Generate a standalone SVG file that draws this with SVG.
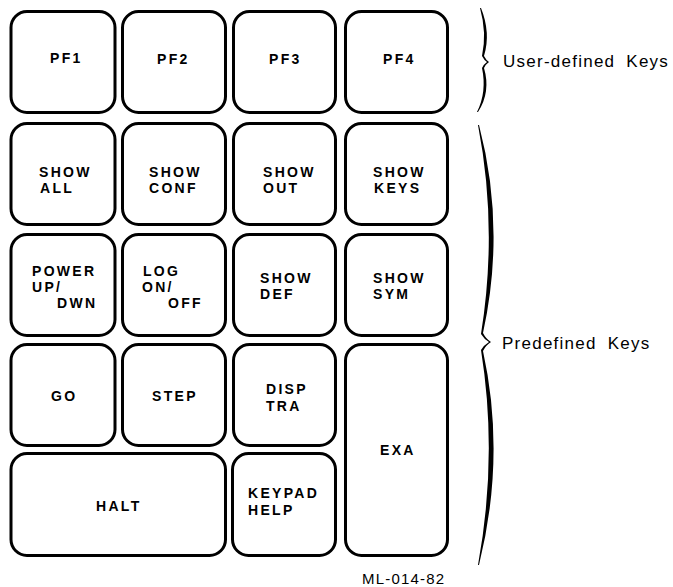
<svg xmlns="http://www.w3.org/2000/svg" width="673" height="587" viewBox="0 0 673 587">
<style>
.key rect{fill:#fff;stroke:#000;stroke-width:3}
.kt{font-family:"Liberation Sans",Arial,sans-serif;font-weight:bold;font-size:14px;letter-spacing:2.3px;fill:#000}
.lbl{font-family:"Liberation Sans",Arial,sans-serif;font-size:17px;letter-spacing:1.25px;word-spacing:5px;fill:#000}
.ref{font-family:"Liberation Sans",Arial,sans-serif;font-size:15px;letter-spacing:1.2px;fill:#000}
.brace{fill:#000}
</style>
<rect width="673" height="587" fill="#fff"/>
<g id="pf1" class="key"><rect x="11" y="11.5" width="104" height="101" rx="16"/><text class="kt" x="50" y="63">PF1</text></g>
<g id="pf2" class="key"><rect x="122.5" y="11.5" width="103" height="101" rx="16"/><text class="kt" x="157" y="64">PF2</text></g>
<g id="pf3" class="key"><rect x="233.5" y="11.5" width="102" height="101" rx="16"/><text class="kt" x="269" y="64">PF3</text></g>
<g id="pf4" class="key"><rect x="345.5" y="11.5" width="102" height="101" rx="16"/><text class="kt" x="383" y="64">PF4</text></g>

<g id="show-all" class="key"><rect x="11" y="123.5" width="104" height="101" rx="16"/><text class="kt" x="39" y="177">SHOW</text><text class="kt" x="40" y="193">ALL</text></g>
<g id="show-conf" class="key"><rect x="122.5" y="123.5" width="103" height="101" rx="16"/><text class="kt" x="149" y="177">SHOW</text><text class="kt" x="149" y="193">CONF</text></g>
<g id="show-out" class="key"><rect x="233.5" y="123.5" width="102" height="101" rx="16"/><text class="kt" x="263" y="177">SHOW</text><text class="kt" x="263" y="193">OUT</text></g>
<g id="show-keys" class="key"><rect x="345.5" y="123.5" width="102" height="101" rx="16"/><text class="kt" x="373" y="177">SHOW</text><text class="kt" x="374" y="193">KEYS</text></g>

<g id="power" class="key"><rect x="11" y="234.5" width="104" height="101" rx="16"/><text class="kt" x="32" y="276">POWER</text><text class="kt" x="32" y="292">UP/</text><text class="kt" x="57" y="308">DWN</text></g>
<g id="log" class="key"><rect x="122.5" y="234.5" width="103" height="101" rx="16"/><text class="kt" x="143" y="276">LOG</text><text class="kt" x="142" y="292">ON/</text><text class="kt" x="168" y="308">OFF</text></g>
<g id="show-def" class="key"><rect x="233.5" y="234.5" width="102" height="101" rx="16"/><text class="kt" x="260" y="283">SHOW</text><text class="kt" x="260" y="299">DEF</text></g>
<g id="show-sym" class="key"><rect x="345.5" y="234.5" width="102" height="101" rx="16"/><text class="kt" x="373" y="283">SHOW</text><text class="kt" x="373" y="299">SYM</text></g>

<g id="go" class="key"><rect x="11" y="344.5" width="104" height="101" rx="16"/><text class="kt" x="51" y="401">GO</text></g>
<g id="step" class="key"><rect x="122.5" y="344.5" width="103" height="101" rx="16"/><text class="kt" x="152" y="401">STEP</text></g>
<g id="disp" class="key"><rect x="233.5" y="344.5" width="102" height="101" rx="16"/><text class="kt" x="266" y="394">DISP</text><text class="kt" x="266" y="411">TRA</text></g>
<g id="exa" class="key"><rect x="345.5" y="344.5" width="102" height="211" rx="16"/><text class="kt" x="380" y="455">EXA</text></g>

<g id="halt" class="key"><rect x="11" y="453.5" width="214.5" height="102" rx="16"/><text class="kt" x="96" y="511">HALT</text></g>
<g id="keypad-help" class="key"><rect x="232.5" y="453.5" width="103" height="102" rx="16"/><text class="kt" x="248" y="498">KEYPAD</text><text class="kt" x="248" y="515">HELP</text></g>

<g id="connectors">
<path id="brace-user" class="brace" d="M481,8 Q491,33 484,56 Q486,60 489,62 Q486,64 484,68 Q491,92 478,112 L477,112 Q487,92 482,68 Q484,64 487,62 Q484,60 482,56 Q487,33 480,8 Z"/>
<path id="brace-pre" class="brace" d="M479,125 Q506,228 483,333 Q486,339 491,342 Q486,345 483,351 Q506,456 479,565 L478,565 Q498,456 481,350 Q484,345 489,342 Q484,339 481,334 Q498,228 478,125 Z"/>
</g>
<g id="labels">
<text class="lbl" x="503" y="67">User-defined Keys</text>
<text class="lbl" x="502" y="349">Predefined Keys</text>
<text class="ref" x="362" y="584">ML-014-82</text>
</g>
</svg>
